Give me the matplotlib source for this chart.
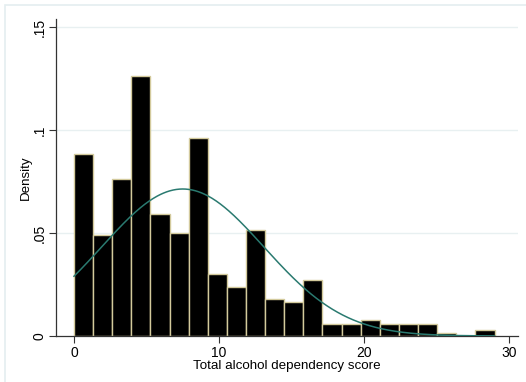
import numpy as np
import matplotlib
matplotlib.use("Agg")
import matplotlib.pyplot as plt
from matplotlib.patches import Rectangle

plt.rcParams['font.family'] = ['Liberation Sans', 'DejaVu Sans']

# Histogram of total alcohol dependency score (22 bins over 0..29)
bin_min, bin_max, n_bins = 0.0, 29.0, 22
densities = [0.0882, 0.0489, 0.0761, 0.1264, 0.0591, 0.0502, 0.0961, 0.0303,
             0.0240, 0.0515, 0.0181, 0.0165, 0.0272, 0.0057, 0.0057, 0.0076,
             0.0057, 0.0057, 0.0057, 0.0013, 0.0, 0.0029]
# Normal density overlay parameters
norm_mean = 7.5
norm_sd = 5.59

x_ticks = [0, 10, 20, 30]
y_ticks = [0, 0.05, 0.10, 0.15]
y_tick_labels = ['0', '.05', '.1', '.15']

W, H = 526, 382
fig = plt.figure(figsize=(W / 100, H / 100), dpi=100)
fig.patch.set_facecolor('white')
fig.add_artist(Rectangle((5 / W, -0.1), 1.2, (H - 5) / H + 0.1,
                         transform=fig.transFigure, facecolor='none',
                         edgecolor='#e4eef0', linewidth=1.2))

ax = fig.add_axes([56 / W, (H - 336) / H, (518 - 56) / W, (336 - 19) / H])
ax.set_facecolor('white')

edges = np.linspace(bin_min, bin_max, n_bins + 1)
width = edges[1] - edges[0]
ax.bar(edges[:-1], densities, width=width, align='edge', color='black',
       edgecolor='#d3ca9c', linewidth=1.0, zorder=2)

xs = np.linspace(bin_min, bin_max, 400)
ys = np.exp(-0.5 * ((xs - norm_mean) / norm_sd) ** 2) / (norm_sd * np.sqrt(2 * np.pi))
ax.plot(xs, ys, color='#2a7a70', linewidth=1.1, zorder=3)

ax.set_xlim(-1.24, 30.62)
ax.set_ylim(0, 0.1539)

for yv in y_ticks[1:]:
    ax.axhline(yv, color='#e8f0f1', linewidth=1.0, zorder=1)

ax.set_xticks(x_ticks)
ax.set_yticks(y_ticks)
ax.set_yticklabels(y_tick_labels, rotation=90, va='center')
ax.tick_params(axis='both', direction='out', length=5, width=0.8,
               colors='#333333', labelcolor='black', labelsize=10)
ax.tick_params(axis='y', pad=2)
ax.tick_params(axis='x', pad=2)

for s in ['top', 'right']:
    ax.spines[s].set_visible(False)
for s in ['left', 'bottom']:
    ax.spines[s].set_color('#333333')
    ax.spines[s].set_linewidth(0.9)

ax.set_xlabel('Total alcohol dependency score', fontsize=9.6, labelpad=0)
ax.set_ylabel('Density', fontsize=9.6, labelpad=0)

fig.savefig('out.png', dpi=100)
